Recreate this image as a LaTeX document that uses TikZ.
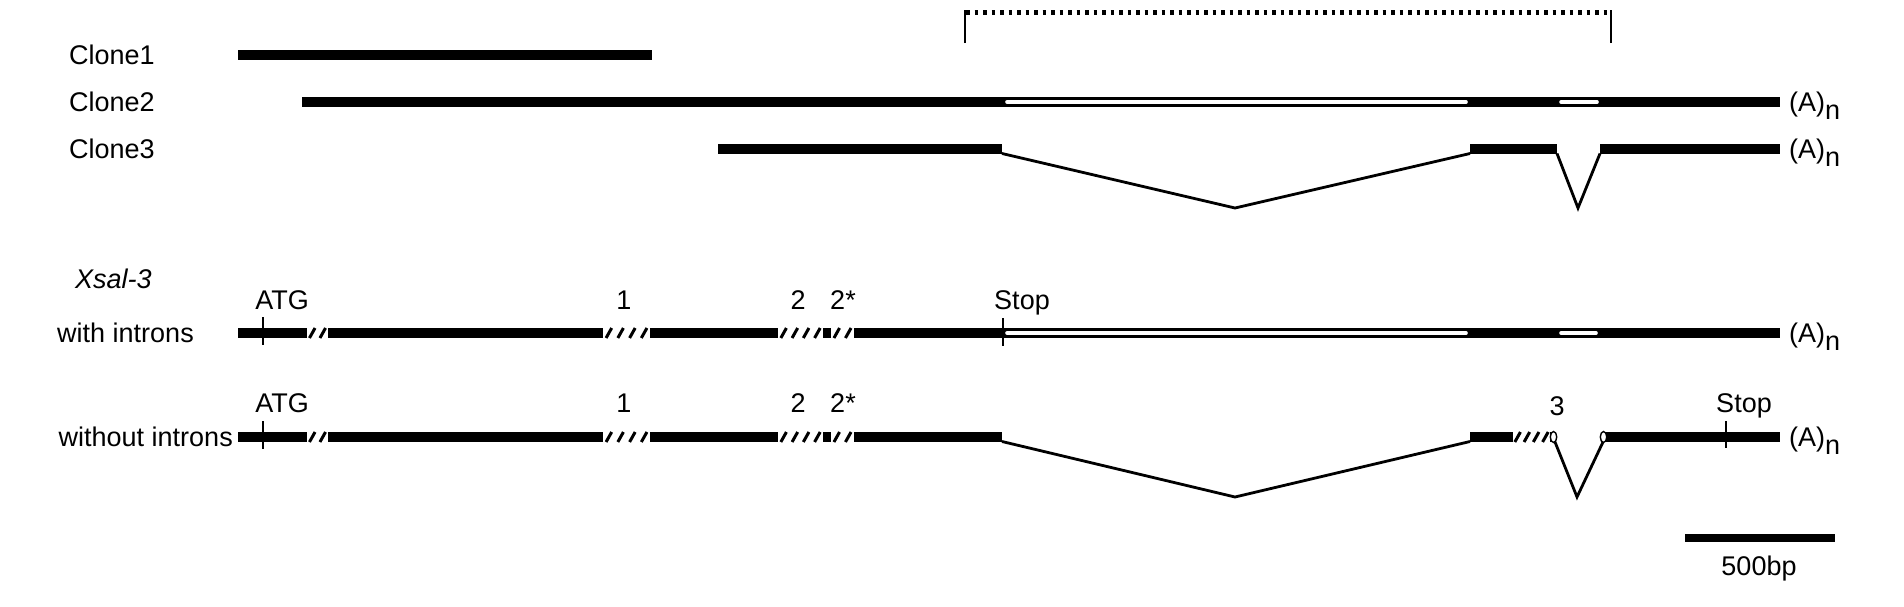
\documentclass[tikz,border=0pt]{standalone}
\usepackage{fontspec}
\setmainfont{Liberation Sans}
\newcommand\hatchseg[4]{% x1, x2, y, number of slashes
  \fill[white] (#1,#3-5.5) rectangle (#2,#3+5.5);
  \foreach \i in {1,...,#4}{
    \pgfmathsetmacro\xx{#1+(#2-#1)*(\i-0.5)/#4}
    \draw[slash] (\xx-2.8,#3+5) -- (\xx+2.8,#3-5);
  }
}
\begin{document}
\begin{tikzpicture}[x=1pt,y=-1pt]
\tikzset{
  lbl/.style={font=\fontsize{27}{31}\selectfont, inner sep=0pt},
  bar/.style={line width=10pt},
  hole/.style={white, line width=3.6pt, line cap=round},
  intronline/.style={line width=2.8pt, line join=miter},
  tickmark/.style={line width=1.6pt},
  slash/.style={line width=3pt},
  loopend/.style={draw=black, fill=white, line width=1.4pt},
  bracket/.style={line width=2.6pt},
  dotbar/.style={line width=5pt, dash pattern=on 3.5pt off 5pt}
}
\fill[white] (0,0) rectangle (1904,606);
\useasboundingbox (0,0) rectangle (1904,606);

% ---------- bracket ----------
\coordinate (bl0) at (965,43);
\coordinate (bl1) at (965,9.5);
\coordinate (br1) at (1611,9.5);
\coordinate (br0) at (1611,43);
\draw[bracket] (bl0) -- (bl1);
\draw[bracket] (br0) -- (br1);
\draw[dotbar] (966,12) -- (1610,12);

% ---------- clones ----------
\node[lbl, anchor=base west] (lc1) at (69,64) {Clone1};
\node[lbl, anchor=base west] (lc2) at (69,111) {Clone2};
\node[lbl, anchor=base west] (lc3) at (69,158) {Clone3};

\draw[bar] (238,55) -- (652,55);

\draw[bar] (302,102) -- (1780,102);
\draw[hole] (1007,102) -- (1466,102);
\draw[hole] (1561,102) -- (1597,102);
\node[lbl, anchor=base west] (an1) at (1789,111) {(A)\raisebox{-0.3em}{n}};

\draw[bar] (718,149) -- (1002,149);
\draw[bar] (1470,149) -- (1557,149);
\draw[bar] (1600,149) -- (1780,149);
\coordinate (c3a) at (1002,153.5);
\coordinate (c3m) at (1235,208);
\coordinate (c3b) at (1470,153.5);
\coordinate (c3c) at (1557,153.5);
\coordinate (c3n) at (1578,208);
\coordinate (c3d) at (1600,153.5);
\draw[intronline] (c3a) -- (c3m) -- (c3b);
\draw[intronline] (c3c) -- (c3n) -- (c3d);
\node[lbl, anchor=base west] (an2) at (1789,158) {(A)\raisebox{-0.3em}{n}};

% ---------- Xsal-3 with introns ----------
\node[lbl, anchor=base west] (xs) at (75,288) {\itshape Xsal-3};
\node[lbl, anchor=base east] (wi) at (194,342) {with introns};

\draw[bar] (238,333) -- (1780,333);
\hatchseg{307}{328}{333}{2}
\hatchseg{603}{650}{333}{4}
\hatchseg{778}{823}{333}{4}
\hatchseg{831}{854}{333}{2}
\draw[hole] (1007,333) -- (1466,333);
\draw[hole] (1561,333) -- (1596,333);
\draw[tickmark] (263,317) -- (263,345);
\draw[tickmark] (1003,318) -- (1003,346);
\node[lbl, anchor=base] (atg1) at (282,309) {ATG};
\node[lbl, anchor=base] (e1a) at (624,309) {1};
\node[lbl, anchor=base] (e2a) at (798,309) {2};
\node[lbl, anchor=base] (e2sa) at (843,309) {2*};
\node[lbl, anchor=base] (stop1) at (1022,309) {Stop};
\node[lbl, anchor=base west] (an3) at (1789,342) {(A)\raisebox{-0.3em}{n}};

% ---------- without introns ----------
\node[lbl, anchor=base east] (wo) at (233,446) {without introns};

\draw[bar] (238,437) -- (1002,437);
\hatchseg{307}{328}{437}{2}
\hatchseg{603}{650}{437}{4}
\hatchseg{778}{823}{437}{4}
\hatchseg{831}{854}{437}{2}
\draw[bar] (1470,437) -- (1553,437);
\hatchseg{1513}{1550}{437}{4}
\draw[bar] (1606,437) -- (1780,437);
\coordinate (w3a) at (1002,441.5);
\coordinate (w3m) at (1235,497);
\coordinate (w3b) at (1470,441.5);
\coordinate (w3c) at (1555,442);
\coordinate (w3n) at (1577,497);
\coordinate (w3d) at (1603,442);
\draw[intronline] (w3a) -- (w3m) -- (w3b);
\draw[intronline] (w3c) -- (w3n) -- (w3d);
\draw[loopend] (1553.5,437) ellipse (3.2 and 5.5);
\draw[loopend] (1603.5,437) ellipse (3.2 and 5.5);
\draw[tickmark] (263,421) -- (263,449);
\draw[tickmark] (1726,421) -- (1726,448);
\node[lbl, anchor=base] (atg2) at (282,412) {ATG};
\node[lbl, anchor=base] (e1b) at (624,412) {1};
\node[lbl, anchor=base] (e2b) at (798,412) {2};
\node[lbl, anchor=base] (e2sb) at (843,412) {2*};
\node[lbl, anchor=base] (e3) at (1557,415) {3};
\node[lbl, anchor=base] (stop2) at (1744,412) {Stop};
\node[lbl, anchor=base west] (an4) at (1789,446) {(A)\raisebox{-0.3em}{n}};

% ---------- scale bar ----------
\draw[line width=8pt] (1685,538) -- (1835,538);
\node[lbl, anchor=base] (sb) at (1759,575) {500bp};
\end{tikzpicture}
\end{document}
